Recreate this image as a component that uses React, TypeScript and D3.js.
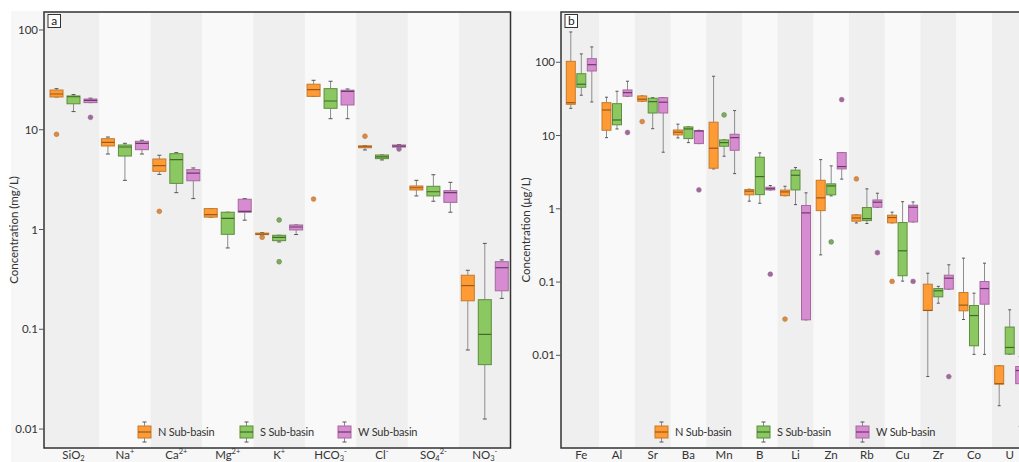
import React from 'react';
import * as d3 from 'd3';

// ---------- DATA ----------
const groups = ['N', 'S', 'W'];
const legendLabels = ['N Sub-basin', 'S Sub-basin', 'W Sub-basin'];

const catsA = ['SiO2', 'Na+', 'Ca2+', 'Mg2+', 'K+', 'HCO3-', 'Cl-', 'SO42-', 'NO3-'];
const labelsA = [
  ['SiO', '2', ''], ['Na', '', '+'], ['Ca', '', '2+'], ['Mg', '', '2+'], ['K', '', '+'],
  ['HCO', '3', '-'], ['Cl', '', '-'], ['SO', '4', '2-'], ['NO', '3', '-'],
];
const yTicksA = [0.01, 0.1, 1, 10, 100];
const yTickLabelsA = ['0.01', '0.1', '1', '10', '100'];

// [whiskerLow, q1, median, q3, whiskerHigh]
const aN = [
  [21.3, 21.3, 22.8, 25.0, 25.8], [5.71, 6.87, 7.48, 8.13, 8.45], [3.57, 3.83, 4.37, 5.09, 5.55],
  [1.33, 1.33, 1.41, 1.62, 1.62], [0.865, 0.89, 0.9, 0.92, 0.93], [21.6, 21.6, 25.2, 28.6, 31.3],
  [6.27, 6.6, 6.75, 6.9, 6.95], [2.17, 2.49, 2.62, 2.73, 3.11], [0.062, 0.193, 0.274, 0.348, 0.39],
];
const aS = [
  [15.2, 18.2, 21.4, 21.8, 22.5], [3.11, 5.45, 6.71, 7.03, 7.31], [2.34, 2.9, 5.01, 5.75, 5.89],
  [0.653, 0.895, 1.29, 1.49, 1.49], [0.75, 0.773, 0.835, 0.875, 0.875], [12.9, 16.4, 19.4, 25.8, 30.6],
  [4.98, 5.13, 5.34, 5.58, 5.58], [1.92, 2.17, 2.39, 2.71, 3.54], [0.0126, 0.0442, 0.0889, 0.198, 0.726],
];
const aW = [
  [18.7, 18.7, 19.7, 20.3, 20.7], [5.71, 6.31, 7.31, 7.66, 7.84], [2.04, 3.08, 3.68, 3.98, 4.14],
  [1.24, 1.49, 1.52, 2.01, 2.04], [0.89, 0.99, 1.06, 1.11, 1.11], [12.9, 17.7, 24.2, 24.9, 25.6],
  [6.6, 6.7, 6.85, 7.03, 7.1], [1.49, 1.87, 2.34, 2.45, 2.97], [0.204, 0.243, 0.414, 0.476, 0.496],
];
const aOutN = [[0, 9.0], [2, 1.52], [4, 0.835], [5, 2.02], [6, 8.6]];
const aOutS = [[4, 1.245], [4, 0.475]];
const aOutW = [[0, 13.3], [6, 6.4]];

const catsB = ['Fe', 'Al', 'Sr', 'Ba', 'Mn', 'B', 'Li', 'Zn', 'Rb', 'Cu', 'Zr', 'Co', 'U'];
const yTicksB = [0.01, 0.1, 1, 10, 100];
const yTickLabelsB = ['0.01', '0.1', '1', '10', '100'];

const bN = [
  [23.5, 26.7, 28.1, 103, 259], [9.36, 11.8, 22.3, 28.1, 33.3], [29.4, 29.4, 31.3, 34.7, 34.7],
  [9.27, 10.2, 11.1, 11.9, 14.3], [3.5, 3.58, 6.71, 15.2, 64.4], [1.27, 1.55, 1.74, 1.83, 1.85],
  [1.51, 1.51, 1.7, 1.8, 2.03], [0.235, 0.944, 1.41, 2.45, 4.69], [0.64, 0.678, 0.75, 0.826, 0.826],
  [0.643, 0.643, 0.76, 0.818, 0.9], [0.00514, 0.0408, 0.041, 0.0935, 0.132],
  [0.0308, 0.0405, 0.0484, 0.0719, 0.212], [0.00205, 0.00405, 0.0041, 0.0072, 0.0072],
];
const bS = [
  [35.5, 45.6, 50.1, 69.8, 130], [12.3, 14.0, 16.3, 27.2, 40.2], [12.4, 20.3, 29.0, 32.3, 32.9],
  [8.0, 9.08, 12.3, 13.1, 13.1], [5.22, 7.14, 8.0, 8.71, 8.71], [1.19, 1.56, 2.75, 5.06, 5.79],
  [1.14, 1.81, 2.87, 3.37, 3.65], [1.5, 1.55, 2.05, 2.19, 3.85], [0.63, 0.69, 0.735, 1.04, 1.87],
  [0.103, 0.122, 0.267, 0.649, 1.25], [0.0515, 0.0628, 0.076, 0.0815, 0.0874],
  [0.0103, 0.0135, 0.0349, 0.0478, 0.0705], [0.0104, 0.0104, 0.0128, 0.0243, 0.0418],
];
const bW = [
  [28.7, 76.0, 92.7, 112, 162], [34.4, 34.4, 38.5, 41.9, 55.1], [5.92, 20.3, 28.5, 32.9, 32.9],
  [7.76, 7.76, 11.5, 11.7, 11.8], [3.02, 6.29, 9.36, 10.4, 21.9], [1.81, 1.81, 1.88, 1.97, 2.08],
  [0.0305, 0.0305, 0.879, 1.11, 1.65], [2.54, 3.5, 3.77, 5.85, 5.85], [1.05, 1.05, 1.23, 1.32, 1.63],
  [0.662, 0.662, 1.05, 1.12, 1.24], [0.08, 0.08, 0.113, 0.124, 0.172],
  [0.0103, 0.0499, 0.0815, 0.1017, 0.181], [0.00107, 0.0041, 0.0062, 0.00703, 0.0096],
];
const bOutN = [[2, 15.5], [6, 0.0312], [8, 2.56], [9, 0.102]];
const bOutS = [[4, 19.1], [7, 0.353]];
const bOutW = [[1, 11.0], [3, 1.81], [5, 0.128], [7, 30.9], [8, 0.252], [9, 0.102], [10, 0.00512]];

// ---------- STYLE ----------
const FONT = 'Lato, "Noto Sans", sans-serif';
const fills = ['#fe9b35', '#8cc862', '#d78bd0'];
const strokes = ['#c47a2c', '#5e8d3e', '#a46a9e'];
const medians = ['#9a5a1c', '#3f6a28', '#6e3a6c'];
const outFill = ['#d68a4c', '#80a86a', '#9c6c96'];
const GRAY = '#efefef';
const LIGHT = '#f9f9f9';

type PanelCfg = {
  cats: string[];
  labels?: string[][];
  series: number[][][];
  outliers: number[][][];
  frameL: number;
  frameR: number;
  top: number;
  bottom: number;
  xRange: [number, number];
  yDomain: [number, number];
  yTicks: number[];
  yTickLabels: string[];
  inPadInner: number;
  inPadOuter: number;
  capW: number;
  title: string;
  titleX: number;
  letter: string;
  legendX: number[];
};

function Panel({ cfg }: { cfg: PanelCfg }) {
  const x = d3.scaleBand<string>().domain(cfg.cats).range(cfg.xRange).padding(0);
  const y = d3.scaleLog().domain(cfg.yDomain).range([cfg.bottom, cfg.top]);
  const inner = d3.scaleBand<string>().domain(groups).range([0, x.bandwidth()])
    .paddingInner(cfg.inPadInner).paddingOuter(cfg.inPadOuter);
  const bw = inner.bandwidth();
  const clipId = 'clip-' + cfg.letter;
  return (
    <g>
      <defs>
        <clipPath id={clipId}>
          <rect x={cfg.frameL} y={cfg.top} width={cfg.frameR - cfg.frameL} height={cfg.bottom - cfg.top} />
        </clipPath>
      </defs>
      <g clipPath={`url(#${clipId})`}>
        <rect x={cfg.frameL} y={cfg.top} width={cfg.frameR - cfg.frameL} height={cfg.bottom - cfg.top} fill={LIGHT} />
        {cfg.cats.map((c, i) => i % 2 === 0 ? (
          <rect key={c} x={i === 0 ? cfg.frameL : (x(c) as number)} y={cfg.top}
            width={i === 0 ? (x(c) as number) + x.bandwidth() - cfg.frameL : x.bandwidth()}
            height={cfg.bottom - cfg.top} fill={GRAY} />
        ) : null)}
        {cfg.series.map((ser, gi) => (
          <g key={gi}>
            {ser.map((d, ci) => {
              const cx = (x(cfg.cats[ci]) as number) + (inner(groups[gi]) as number) + bw / 2;
              const x0 = cx - bw / 2;
              const [lo, q1, md, q3, hi] = d;
              return (
                <g key={ci}>
                  <line x1={cx} x2={cx} y1={y(hi)} y2={y(q3)} stroke="#8d8d8d" strokeWidth={1} />
                  <line x1={cx} x2={cx} y1={y(q1)} y2={y(lo)} stroke="#8d8d8d" strokeWidth={1} />
                  <line x1={cx - cfg.capW / 2} x2={cx + cfg.capW / 2} y1={y(hi)} y2={y(hi)} stroke="#555" strokeWidth={1} />
                  <line x1={cx - cfg.capW / 2} x2={cx + cfg.capW / 2} y1={y(lo)} y2={y(lo)} stroke="#555" strokeWidth={1} />
                  <rect x={x0} y={y(q3)} width={bw} height={Math.max(1.5, y(q1) - y(q3))}
                    fill={fills[gi]} stroke={strokes[gi]} strokeWidth={1} />
                  <line x1={x0} x2={x0 + bw} y1={y(md)} y2={y(md)} stroke={medians[gi]} strokeWidth={1.2} />
                </g>
              );
            })}
            {cfg.outliers[gi].map(([ci, v], k) => {
              const cx = (x(cfg.cats[ci]) as number) + (inner(groups[gi]) as number) + bw / 2;
              return <circle key={'o' + k} cx={cx} cy={y(v)} r={2.4} fill={outFill[gi]} stroke={strokes[gi]} strokeWidth={0.6} />;
            })}
          </g>
        ))}
        {/* legend */}
        {groups.map((g, gi) => {
          const lx = cfg.legendX[gi];
          const cy = 432;
          return (
            <g key={'leg' + g}>
              <line x1={lx + 6.5} x2={lx + 6.5} y1={cy - 10} y2={cy + 10} stroke="#8d8d8d" />
              <line x1={lx + 4.5} x2={lx + 8.5} y1={cy - 10} y2={cy - 10} stroke="#555" />
              <line x1={lx + 4.5} x2={lx + 8.5} y1={cy + 10} y2={cy + 10} stroke="#555" />
              <rect x={lx} y={cy - 6} width={13} height={12} fill={fills[gi]} stroke={strokes[gi]} />
              <line x1={lx} x2={lx + 13} y1={cy} y2={cy} stroke={medians[gi]} strokeWidth={1.2} />
              <text x={lx + 20} y={cy + 3.8} fontSize={11} fill="#333" fontFamily={FONT} letterSpacing={-0.2}>{legendLabels[gi]}</text>
            </g>
          );
        })}
      </g>
      {/* frame */}
      <rect x={cfg.frameL} y={cfg.top} width={cfg.frameR - cfg.frameL} height={cfg.bottom - cfg.top}
        fill="none" stroke="#333" strokeWidth={1.5} />
      {/* letter box */}
      <rect x={cfg.frameL + 4} y={cfg.top + 2.5} width={12.5} height={13} fill="#fff" stroke="#333" strokeWidth={1} />
      <text x={cfg.frameL + 10.25} y={cfg.top + 13} fontSize={12} textAnchor="middle" fill="#222" fontFamily={FONT}>{cfg.letter}</text>
      {/* y axis ticks */}
      {cfg.yTicks.map((t, i) => (
        <g key={'yt' + t}>
          <line x1={cfg.frameL - 5} x2={cfg.frameL} y1={y(t)} y2={y(t)} stroke="#555" />
          <text x={cfg.frameL - 6} y={y(t) + 4} fontSize={11.5} textAnchor="end" fill="#333" fontFamily={FONT}>{cfg.yTickLabels[i]}</text>
        </g>
      ))}
      <text transform={`translate(${cfg.titleX},${(cfg.top + cfg.bottom) / 2}) rotate(-90)`} fontSize={11.5}
        textAnchor="middle" fill="#333" fontFamily={FONT}>{cfg.title}</text>
      {/* x labels */}
      {cfg.cats.map((c, i) => {
        const cx = (x(c) as number) + x.bandwidth() / 2;
        const lab = cfg.labels ? cfg.labels[i] : [c, '', ''];
        return (
          <text key={'xl' + c} x={cx} y={458.5} fontSize={11.5} textAnchor="middle" fill="#333" fontFamily={FONT}>
            <tspan>{lab[0]}</tspan>
            {lab[1] ? <tspan fontSize={7.5} dy={2.5}>{lab[1]}</tspan> : null}
            {lab[2] ? <tspan fontSize={7.5} dy={lab[1] ? -7 : -4.5}>{lab[2]}</tspan> : null}
          </text>
        );
      })}
    </g>
  );
}

export default function App() {
  const cfgA: PanelCfg = {
    cats: catsA, labels: labelsA, series: [aN, aS, aW], outliers: [aOutN, aOutS, aOutW],
    frameL: 44, frameR: 510.5, top: 12, bottom: 448,
    xRange: [47.8, 510.5], yDomain: [Math.pow(10, -2.19), Math.pow(10, 2.18)],
    yTicks: yTicksA, yTickLabels: yTickLabelsA, inPadInner: 0.235, inPadOuter: 0.13, capW: 4,
    title: 'Concentration (mg/L)', titleX: 18, letter: 'a', legendX: [138, 240, 338],
  };
  const cfgB: PanelCfg = {
    cats: catsB, series: [bN, bS, bW], outliers: [bOutN, bOutS, bOutW],
    frameL: 561, frameR: 1028, top: 12, bottom: 448,
    xRange: [563.45, 563.45 + 35.7 * 13], yDomain: [Math.pow(10, -3.265), Math.pow(10, 2.686)],
    yTicks: yTicksB, yTickLabels: yTickLabelsB, inPadInner: 0.143, inPadOuter: 0.27, capW: 3,
    title: 'Concentration (μg/L)', titleX: 530, letter: 'b', legendX: [655, 757, 856],
  };
  return (
    <svg width={1019} height={462} style={{ position: 'absolute', left: 0, top: 0, display: 'block' }}>
      <rect x={0} y={0} width={1019} height={462} fill="#fff" />
      <rect x={11} y={11} width={1008} height={451} fill="#f7f7f7" />
      <Panel cfg={cfgA} />
      <Panel cfg={cfgB} />
    </svg>
  );
}
